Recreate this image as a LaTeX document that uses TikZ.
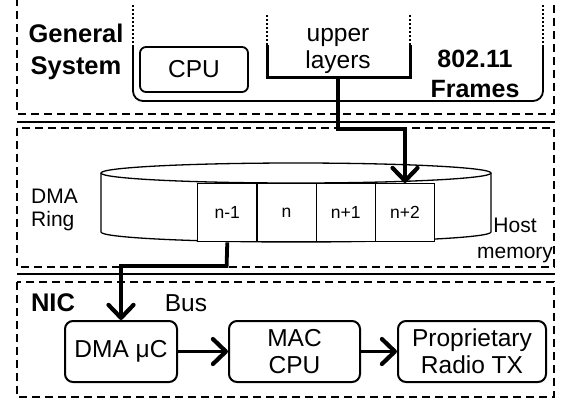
\documentclass[tikz,border=0pt]{standalone}
\usepackage{fontspec}
\setmainfont{Liberation Sans}
\usetikzlibrary{arrows.meta}

\tikzset{
  dashbox/.style={line width=2, dash pattern=on 8 off 5},
  dotline/.style={line width=2, dash pattern=on 2 off 2},
  sepline/.style={line width=2.6},
  conn/.style={line width=3.8, -{Straight Barb[length=13pt 0 0, width=25pt 0 0, line width=4.2pt, round]}},
  rbox/.style={draw, rounded corners=8, line width=2, fill=white, inner sep=0, align=center,
    font=\fontsize{24.5}{27}\selectfont},
  cell/.style={draw, line width=1.3, fill=white, minimum width=59.25pt, minimum height=58pt,
    inner sep=0, font=\fontsize{17.5}{20}\selectfont},
  txt/.style={inner sep=0, align=center, font=\fontsize{24.5}{27}\selectfont},
  boldtxt/.style={inner sep=0, align=center, font=\fontsize{25.5}{32}\selectfont\bfseries},
  midtxt/.style={inner sep=0, font=\fontsize{21}{23}\selectfont},
}

\begin{document}
\begin{tikzpicture}[x=1pt, y=-1pt]
\useasboundingbox (0,0) rectangle (564,400);

% ---------- General system ----------
\draw[dashbox] (17,-2) -- (17,114) -- (554,114) -- (554,-2);
\node[boldtxt] (gen) at (76,52) {General\\System};

% host container, open at the top
\draw[line width=1.8, rounded corners=10] (133,45) -- (133,101) -- (543,101) -- (543,45);
\draw[dotline] (133,5) -- (133,45);
\draw[dotline] (543,5) -- (543,45);

\node[rbox, line width=1.8, rounded corners=6, minimum width=108pt, minimum height=45pt] (cpu) at (194,69.5) {CPU};

% upper layers bracket
\draw[line width=3] (267,45) -- (267,77) -- (410,77) -- (410,45);
\draw[dotline, line width=2.4] (267,15) -- (267,45);
\draw[dotline, line width=2.4] (410,15) -- (410,45);
\node[txt] (upper) at (338,51) {upper\\layers};
\coordinate (ulb) at (338,77);
\coordinate (bend1) at (338,129);

\node[boldtxt, font=\fontsize{25}{30}\selectfont\bfseries] (frames) at (475,74) {802.11\\Frames};

% separators
\draw[sepline] (17,122) -- (555,122);
\draw[sepline] (17,274) -- (555,274);

% ---------- Host memory ----------
\draw[dashbox] (17,128) rectangle (554,267);
\node[midtxt, align=left, anchor=west] (ringlbl) at (31,210) {DMA\\Ring};
\node[midtxt, align=center, font=\fontsize{21}{26}\selectfont] (host) at (515,240) {Host\\memory};

% ring buffer drawn as a flat cylinder
\filldraw[fill=white, line width=1.3] (101,173) -- (101,232)
  arc[start angle=180, end angle=360, x radius=195pt, y radius=10pt] -- (491,173);
\draw[line width=1.3] (296,173) ellipse[x radius=195pt, y radius=10pt];

\node[cell, anchor=north west] (c1) at (197,183) {n-1};
\node[cell, anchor=north west] (c2) at (256.25,183) {n};
\node[cell, anchor=north west] (c3) at (315.5,183) {n+1};
\node[cell, anchor=north west] (c4) at (374.75,183) {n+2};

\draw[conn] (ulb) -- (bend1) -| (c4.north);

% ---------- NIC ----------
\draw[dashbox] (17,282) rectangle (554,397);
\node[boldtxt] (nic) at (53,303) {NIC};
\node[txt] (bus) at (186,303) {Bus};

\node[rbox, minimum width=112pt, minimum height=61pt] (dma) at (121,351.5) {DMA μC};
\node[rbox, minimum width=131pt, minimum height=61pt] (mac) at (294.5,351.5) {MAC\\CPU};
\node[rbox, minimum width=148pt, minimum height=61pt] (radio) at (472,351.5) {Proprietary\\Radio TX};

\coordinate (bend2) at (226.6,266);
\draw[conn] (c1.south) -- (bend2) -| (dma.north);
\draw[conn] (dma.east) -- (mac.west);
\draw[conn] (mac.east) -- (radio.west);
\end{tikzpicture}
\end{document}
